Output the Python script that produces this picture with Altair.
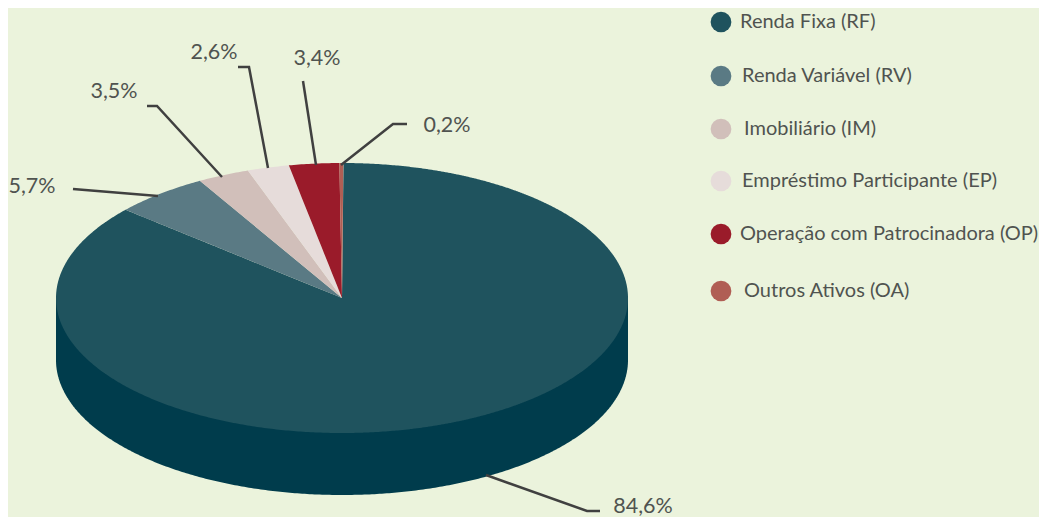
import math
import altair as alt
import pandas as pd

# ---- chart values -------------------------------------------------------
categories = ["Renda Fixa (RF)", "Renda Variável (RV)", "Imobiliário (IM)",
              "Empréstimo Participante (EP)", "Operação com Patrocinadora (OP)", "Outros Ativos (OA)"]
value_labels = ["84,6%", "5,7%", "3,5%", "2,6%", "3,4%", "0,2%"]
# drawn share of each slice, as measured on the picture (the printed labels differ slightly)
drawn_share = [86.25, 5.39, 2.94, 2.36, 2.83, 0.22]
colors = ["#1F535E", "#5A7A84", "#D1BFBA", "#E6DCDA", "#9A1B2A", "#B05E54"]

# ---- layout (image pixels) ----------------------------------------------
W, H = 1031, 509
OFF = 8
CX, CY, RX, RY, DEPTH = 342, 298, 286, 135, 62
START_DEG = 0.3
BG, WALL, INK, LEAD = "#EBF3DC", "#003C4C", "#505350", "#404040"
FONT, FS_LEG, FS_VAL = "Lato", 20, 21.5

legend_dot_y = [22, 76, 129, 181, 234, 291]
legend_text_x = [740, 742, 744, 742, 740, 744]
label_xy = [(643, 507), (32, 187), (114, 92), (214, 53), (317, 59), (447, 126)]
leaders = [
    [(486, 475), (587, 511), (600, 511)],
    [(73, 189), (158, 196)],
    [(147, 106), (157, 106), (222, 177)],
    [(238, 67), (249, 67), (268, 168)],
    [(303, 81), (316, 165)],
    [(407, 124), (393, 124), (341, 165)],
]


def ell(deg):
    t = math.radians(deg)
    return CX + RX * math.sin(t), CY - RY * math.cos(t)


def slice_band(name, a0, a1):
    """Turn a wedge into x / top / bottom rows for an area mark."""
    n = max(2, int((a1 - a0) / 0.5) + 1)
    poly = [(float(CX), float(CY))] + [ell(a0 + (a1 - a0) * i / (n - 1)) for i in range(n)]
    rows = []
    xs = sorted({round(p[0], 3) for p in poly})
    m = len(poly)
    for x in xs:
        ys = []
        for i in range(m):
            (x1, y1), (x2, y2) = poly[i], poly[(i + 1) % m]
            lo, hi = min(x1, x2), max(x1, x2)
            if lo - 1e-3 <= x <= hi + 1e-3:
                if abs(x2 - x1) < 1e-6:
                    ys += [y1, y2]
                else:
                    ys.append(y1 + (y2 - y1) * (x - x1) / (x2 - x1))
        if ys:
            rows.append({"cat": name, "x": x, "y": min(ys), "y2": max(ys)})
    return rows


rows, a = [], START_DEG
for name, share in zip(categories, drawn_share):
    b = a + share * 3.6
    rows += slice_band(name, a, b)
    a = b
slices = pd.DataFrame(rows)

wall_rows = []
for i in range(0, 361):
    t = math.radians(i / 2)
    wall_rows.append({"x": CX - RX * math.cos(t), "y": CY, "y2": CY + DEPTH + RY * math.sin(t)})
wall = pd.DataFrame(wall_rows)

lead_rows = [{"id": i, "o": j, "x": p[0], "y": p[1]} for i, l in enumerate(leaders) for j, p in enumerate(l)]
labels = pd.DataFrame({"t": value_labels, "x": [p[0] for p in label_xy], "y": [p[1] for p in label_xy]})
legend = pd.DataFrame({"cat": categories, "y": legend_dot_y, "tx": legend_text_x, "dx": [721] * 6})

X = alt.Scale(domain=[OFF, OFF + W], zero=False, nice=False)
Y = alt.Scale(domain=[OFF + H, OFF], zero=False, nice=False)
x = alt.X("x:Q", scale=X, axis=None)
y = alt.Y("y:Q", scale=Y, axis=None)
col = alt.Color("cat:N", scale=alt.Scale(domain=categories, range=colors), legend=None)

wall_l = alt.Chart(wall).mark_area(color=WALL).encode(x=x, y=y, y2="y2:Q")
slice_l = alt.Chart(slices).mark_area().encode(x=x, y=y, y2="y2:Q", color=col)
lead_l = alt.Chart(pd.DataFrame(lead_rows)).mark_line(color=LEAD, strokeWidth=2.5, strokeCap="butt").encode(
    x=x, y=y, detail="id:N", order="o:Q")
label_l = alt.Chart(labels).mark_text(font=FONT, fontSize=FS_VAL, color=INK, align="center", baseline="middle").encode(
    x=x, y=y, text="t:N")
dot_l = alt.Chart(legend).mark_circle(size=430, opacity=1).encode(
    x=alt.X("dx:Q", scale=X, axis=None), y=y, color=col)
leg_text = alt.Chart(legend).mark_text(font=FONT, fontSize=FS_LEG, color=INK, align="left", baseline="middle").encode(
    x=alt.X("tx:Q", scale=X, axis=None), y=y, text="cat:N")

chart = alt.layer(wall_l, slice_l, lead_l, label_l, dot_l, leg_text).properties(
    width=W, height=H, padding=0, background=BG,
    autosize=alt.AutoSizeParams(type="none"),
).configure_view(stroke=None)

chart.save("out.html", embed_options={"renderer": "svg", "actions": False})
